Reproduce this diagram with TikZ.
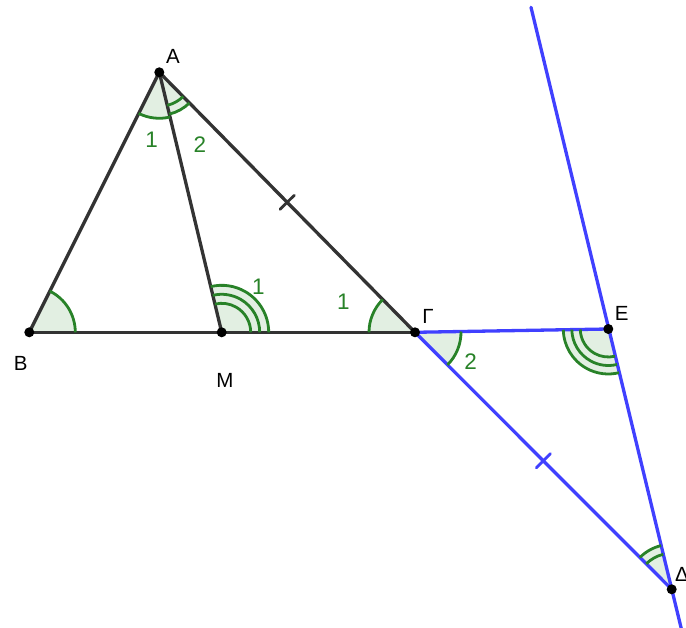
\documentclass[tikz,border=0pt]{standalone}
\usepackage{fontspec}
\setmainfont{Liberation Sans}
\usetikzlibrary{angles,calc}
\definecolor{segc}{RGB}{51,51,51}
\definecolor{bluec}{RGB}{64,64,255}
\definecolor{angc}{RGB}{40,130,40}
\definecolor{angf}{RGB}{226,239,226}
\begin{document}
\begin{tikzpicture}[x=1pt,y=1pt,
  seg/.style={line width=3.3pt, color=segc, line cap=round},
  bseg/.style={line width=3.3pt, color=bluec, line cap=round},
  tick/.style={line width=2.8pt, line cap=round},
  angfill/.style={fill=angf},
  angarc/.style={draw=angc, line width=2.8pt},
  pt/.style={circle, fill=black, inner sep=0pt, minimum size=10pt},
  lbl/.style={font=\fontsize{20.5}{20.5}\selectfont, text=black, inner sep=0pt},
  glbl/.style={font=\fontsize{22.5}{22.5}\selectfont, text=angc, inner sep=0pt}]
\useasboundingbox (0,0) rectangle (686,-628);
% points
\coordinate (A) at (159.3,-72.3);
\coordinate (B) at (29.3,-332.3);
\coordinate (M) at (221.7,-332.3);
\coordinate (G) at (415,-332.3);
\coordinate (E) at (608.3,-329);
\coordinate (D) at (671.7,-589.3);
\coordinate (T) at (531,-7.3);
\coordinate (U) at ($(E)!1.16!(D)$);
% angle fills
\path pic[angfill, angle radius=46pt] {angle=M--B--A};
\path pic[angfill, angle radius=46pt] {angle=B--A--M};
\path pic[angfill, angle radius=43pt] {angle=M--A--G};
\path pic[angfill, angle radius=47pt] {angle=G--M--A};
\path pic[angfill, angle radius=46pt] {angle=A--G--M};
\path pic[angfill, angle radius=46pt] {angle=D--G--E};
\path pic[angfill, angle radius=45pt] {angle=G--E--D};
\path pic[angfill, angle radius=45pt] {angle=E--D--G};
% segments
\draw[seg] (A) -- (B);
\draw[seg] (A) -- (M);
\draw[seg] (A) -- (G);
\draw[seg] (B) -- (G);
\draw[bseg] (G) -- (E);
\draw[bseg] (G) -- (D);
\draw[bseg] (T) -- (U);
% equal-length ticks
\draw[tick, segc] ($(A)!0.5!(G)!10pt!90:(G)$) -- ($(A)!0.5!(G)!10pt!-90:(G)$);
\draw[tick, bluec] ($(G)!0.5!(D)!10pt!90:(D)$) -- ($(G)!0.5!(D)!10pt!-90:(D)$);
% angle arcs
\path pic[angarc, angle radius=46pt] {angle=M--B--A};
\path pic[angarc, angle radius=46pt] {angle=B--A--M};
\path pic[angarc, angle radius=43pt] {angle=M--A--G};
\path pic[angarc, angle radius=34pt] {angle=M--A--G};
\path pic[angarc, angle radius=47pt] {angle=G--M--A};
\path pic[angarc, angle radius=38pt] {angle=G--M--A};
\path pic[angarc, angle radius=29pt] {angle=G--M--A};
\path pic[angarc, angle radius=46pt] {angle=A--G--M};
\path pic[angarc, angle radius=46pt] {angle=D--G--E};
\path pic[angarc, angle radius=45pt] {angle=G--E--D};
\path pic[angarc, angle radius=36.5pt] {angle=G--E--D};
\path pic[angarc, angle radius=28pt] {angle=G--E--D};
\path pic[angarc, angle radius=45pt] {angle=E--D--G};
\path pic[angarc, angle radius=36pt] {angle=E--D--G};
% dots
\node[pt] (pA) at (A) {};
\node[pt] (pB) at (B) {};
\node[pt] (pM) at (M) {};
\node[pt] (pG) at (G) {};
\node[pt] (pE) at (E) {};
\node[pt] (pD) at (D) {};
% labels
\node[lbl] (lA) at (173,-56) {A};
\node[lbl] (lB) at (20.7,-363.3) {B};
\node[lbl] (lM) at (225,-380) {M};
\node[lbl] (lG) at (428,-316.7) {Γ};
\node[lbl] (lE) at (621.7,-313.3) {E};
\node[lbl, anchor=west] (lD) at (675,-574) {Δ};
\node[glbl] (a1) at (151.7,-140) {1};
\node[glbl] (a2) at (200,-145) {2};
\node[glbl] (m1) at (258.3,-286.7) {1};
\node[glbl] (g1) at (343.3,-301.7) {1};
\node[glbl] (g2) at (470.7,-361.7) {2};
\end{tikzpicture}
\end{document}
